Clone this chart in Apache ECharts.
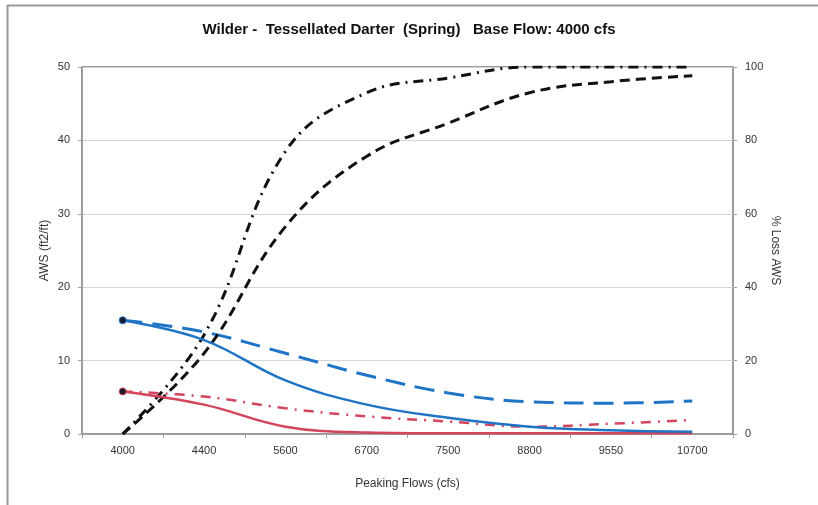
<!DOCTYPE html>
<html><head><meta charset="utf-8">
<script src="https://cdn.jsdelivr.net/npm/echarts@6/dist/echarts.min.js"></script>
<style>html,body{margin:0;padding:0;background:#fff}#c{width:818px;height:505px}</style>
</head><body><div id="c"></div>
<script>
const categories = ['4000','4400','5600','6700','7500','8800','9550','10700'];
const awsSolidBlue = [15.5, 12.8, 7.3, 4.0, 2.2, 1.0, 0.5, 0.3];
const awsDashBlue  = [15.5, 13.9, 11.0, 8.0, 5.6, 4.4, 4.2, 4.5];
const awsSolidRed  = [5.8, 4.0, 1.0, 0.2, 0.1, 0.1, 0.1, 0.1];
const awsDashDotRed= [5.8, 5.1, 3.5, 2.4, 1.7, 1.0, 1.4, 1.9];
const lossDashDot  = [0, 27, 77, 93, 97, 100, 100, 100];
const lossDashed   = [0, 22, 56.5, 75.7, 84.7, 93, 96, 97.6];
const leftTicks = [0, 10, 20, 30, 40, 50];
const rightTicks = [0, 20, 40, 60, 80, 100];

const FONT = '"Liberation Sans", Arial, sans-serif';
const BLUE = '#1f74c6', RED = '#d2455c';

function firstMarked(arr, color) {
  return arr.map((v, i) => i === 0 ? {value: v, symbol: 'circle', symbolSize: 7, itemStyle: {color: '#1a1a2a', borderColor: color, borderWidth: 1}} : v);
}

const chart = echarts.init(document.getElementById('c'), null, {renderer: 'canvas'});
chart.setOption({
  animation: false,
  backgroundColor: '#fff',
  title: {
    text: 'Wilder -  Tessellated Darter  (Spring)   Base Flow: 4000 cfs',
    left: 'center', top: 17,
    textStyle: {fontFamily: FONT, fontSize: 15, fontWeight: 'bold', color: '#111'}
  },
  graphic: [
    {type: 'line', shape: {x1: 7, y1: 5.5, x2: 818, y2: 5.5}, style: {stroke: '#9a9a9a', lineWidth: 2}},
    {type: 'line', shape: {x1: 7.5, y1: 5, x2: 7.5, y2: 505}, style: {stroke: '#9a9a9a', lineWidth: 2}}
  ],
  grid: {left: 82, right: 85, top: 67, bottom: 71, show: true, borderColor: '#777', borderWidth: 1.5},
  xAxis: {
    type: 'category', data: categories, boundaryGap: true,
    name: 'Peaking Flows (cfs)', nameLocation: 'middle', nameGap: 44, nameMoveOverlap: false,
    nameTextStyle: {fontFamily: FONT, fontSize: 12, color: '#333'},
    axisLine: {lineStyle: {color: '#a0a0a0'}},
    axisTick: {show: true, length: 4, lineStyle: {color: '#a0a0a0'}},
    axisLabel: {fontFamily: FONT, fontSize: 11, color: '#333', margin: 11}
  },
  yAxis: [
    {
      type: 'value', min: 0, max: 50, interval: 10, position: 'left',
      name: 'AWS (ft2/ft)', nameLocation: 'middle', nameGap: 31, nameRotate: 90, nameMoveOverlap: false,
      nameTextStyle: {fontFamily: FONT, fontSize: 12, color: '#333'},
      axisLine: {show: true, lineStyle: {color: '#a0a0a0'}},
      axisTick: {show: true, length: 4, lineStyle: {color: '#a0a0a0'}},
      axisLabel: {fontFamily: FONT, fontSize: 11, color: '#333', margin: 12,
        formatter: v => leftTicks.includes(v) ? String(v) : ''},
      splitLine: {show: true, lineStyle: {color: '#d4d4d4'}}
    },
    {
      type: 'value', min: 0, max: 100, interval: 20, position: 'right',
      name: '% Loss AWS', nameLocation: 'middle', nameGap: 36, nameRotate: -90, nameMoveOverlap: false,
      nameTextStyle: {fontFamily: FONT, fontSize: 12, color: '#333'},
      axisLine: {show: true, lineStyle: {color: '#a0a0a0'}},
      axisTick: {show: true, length: 4, lineStyle: {color: '#a0a0a0'}},
      axisLabel: {fontFamily: FONT, fontSize: 11, color: '#333', margin: 12,
        formatter: v => rightTicks.includes(v) ? String(v) : ''},
      splitLine: {show: false}
    }
  ],
  series: [
    {type: 'line', yAxisIndex: 1, data: lossDashed, smooth: 0.4, symbol: 'none', z: 3,
      lineStyle: {color: '#111', width: 3, type: [10, 6]}},
    {type: 'line', yAxisIndex: 1, data: lossDashDot, smooth: 0.4, symbol: 'none', z: 3,
      lineStyle: {color: '#111', width: 3, type: [10, 6, 2, 6]}},
    {type: 'line', yAxisIndex: 0, data: awsDashBlue, smooth: 0.4, symbol: 'none', z: 2,
      lineStyle: {color: BLUE, width: 3, type: [20, 10]}},
    {type: 'line', yAxisIndex: 0, data: awsDashDotRed, smooth: 0.4, symbol: 'none', z: 2,
      lineStyle: {color: RED, width: 2.5, type: [10, 7, 2, 7]}},
    {type: 'line', yAxisIndex: 0, data: firstMarked(awsSolidRed, RED), smooth: 0.4, symbol: 'none', showSymbol: true, z: 4,
      lineStyle: {color: RED, width: 2.5}},
    {type: 'line', yAxisIndex: 0, data: firstMarked(awsSolidBlue, BLUE), smooth: 0.4, symbol: 'none', showSymbol: true, z: 4,
      lineStyle: {color: BLUE, width: 2.5}}
  ]
});
</script></body></html>
